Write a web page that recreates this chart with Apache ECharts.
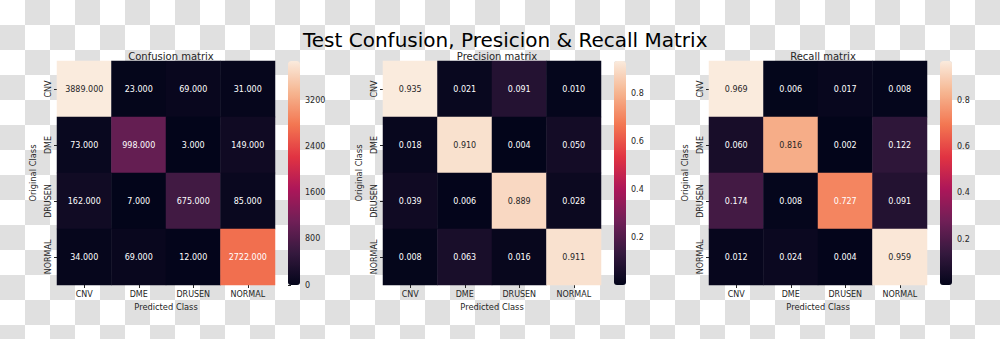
<!DOCTYPE html>
<html>
<head>
<meta charset="utf-8">
<script src="https://cdn.jsdelivr.net/npm/echarts@6/dist/echarts.min.js"></script>
<style>
  html, body { margin: 0; padding: 0; }
  body {
    width: 1000px; height: 339px;
    background: repeating-conic-gradient(#e0e0e0 0 25%, #ffffff 0 50%) 0 0 / 50px 50px;
  }
  #chart { width: 1000px; height: 339px; }
</style>
</head>
<body>
<div id="chart"></div>
<script>
// Class labels (rows = original class, columns = predicted class)
const classes = ['CNV', 'DME', 'DRUSEN', 'NORMAL'];

// Test-set counts
const confusion = [
  [3889, 23, 69, 31],
  [73, 998, 3, 149],
  [162, 7, 675, 85],
  [34, 69, 12, 2722]
];

// Column-normalised (precision)
const precision = [
  [0.935, 0.021, 0.091, 0.010],
  [0.018, 0.910, 0.004, 0.050],
  [0.039, 0.006, 0.889, 0.028],
  [0.008, 0.063, 0.016, 0.911]
];

// Row-normalised (recall)
const recall = [
  [0.969, 0.006, 0.017, 0.008],
  [0.060, 0.816, 0.002, 0.122],
  [0.174, 0.008, 0.727, 0.091],
  [0.012, 0.024, 0.004, 0.959]
];

// Colour-bar tick labels
const countTicks = [0, 800, 1600, 2400, 3200];
const ratioTicks = [0.2, 0.4, 0.6, 0.8];

const mainTitle = 'Test Confusion, Presicion & Recall Matrix';
const panelTitles = ['Confusion matrix', 'Precision matrix', 'Recall matrix'];

// "rocket" sequential palette
const rocket = ['#03051a', '#35193e', '#701f57', '#ad1759', '#e13342', '#f37651', '#f6b48f', '#faebdd'];

const FONT = 'DejaVu Sans';
const INK = '#262626';

function hexToRgb(h) {
  return [parseInt(h.slice(1, 3), 16), parseInt(h.slice(3, 5), 16), parseInt(h.slice(5, 7), 16)];
}
function paletteAt(t) {
  t = Math.max(0, Math.min(1, t));
  const pos = t * (rocket.length - 1);
  const i = Math.min(rocket.length - 2, Math.floor(pos));
  const f = pos - i;
  const a = hexToRgb(rocket[i]), b = hexToRgb(rocket[i + 1]);
  return a.map((c, k) => c + (b[k] - c) * f);
}
function luminance(rgb) {
  const lin = rgb.map(c => {
    c /= 255;
    return c <= 0.03928 ? c / 12.92 : Math.pow((c + 0.055) / 1.055, 2.4);
  });
  return 0.2126 * lin[0] + 0.7152 * lin[1] + 0.0722 * lin[2];
}

const panels = [
  { values: confusion, ticks: countTicks, gridLeft: 57, barLeft: 288 },
  { values: precision, ticks: ratioTicks, gridLeft: 383, barLeft: 614 },
  { values: recall, ticks: ratioTicks, gridLeft: 709, barLeft: 940 }
];
const GRID_TOP = 61, GRID_W = 218, GRID_H = 224, BAR_W = 12;

const grid = [], xAxis = [], yAxis = [], series = [], visualMap = [];
const title = [{
  text: mainTitle, left: 298, top: 25,
  textStyle: { fontFamily: FONT, fontSize: 20, fontWeight: 'normal', color: '#000' }
}];

panels.forEach((p, i) => {
  const flat = p.values.flat();
  const vmin = Math.min(...flat), vmax = Math.max(...flat);

  title.push({
    text: panelTitles[i], left: p.gridLeft + GRID_W / 2, top: 46, textAlign: 'center',
    textStyle: { fontFamily: FONT, fontSize: 10, fontWeight: 'normal', color: INK }
  });

  // heatmap panel
  grid.push({ left: p.gridLeft, top: GRID_TOP, width: GRID_W, height: GRID_H });
  xAxis.push({
    type: 'category', data: classes, gridIndex: i,
    name: 'Predicted Class', nameLocation: 'middle', nameGap: 16,
    nameTextStyle: { fontFamily: FONT, fontSize: 8.3, color: INK },
    axisLine: { show: false },
    axisTick: { show: true, alignWithLabel: true, length: 3, lineStyle: { color: INK } },
    axisLabel: { fontFamily: FONT, fontSize: 8, color: INK, margin: 5 },
    splitLine: { show: false }
  });
  yAxis.push({
    type: 'category', data: classes, gridIndex: i, inverse: true,
    name: 'Original Class', nameLocation: 'middle', nameGap: 20, nameRotate: 90,
    nameTextStyle: { fontFamily: FONT, fontSize: 8.3, color: INK },
    axisLine: { show: false },
    axisTick: { show: true, alignWithLabel: true, length: 3, lineStyle: { color: INK } },
    axisLabel: { fontFamily: FONT, fontSize: 8, color: INK, rotate: 90, margin: 5 },
    splitLine: { show: false }
  });

  const data = [];
  p.values.forEach((row, r) => row.forEach((v, c) => {
    const lum = luminance(paletteAt((v - vmin) / (vmax - vmin)));
    data.push({ value: [c, r, v], label: { color: lum > 0.408 ? INK : '#ffffff' } });
  }));
  series.push({
    type: 'heatmap', xAxisIndex: i, yAxisIndex: i, data: data,
    itemStyle: { borderWidth: 0 },
    label: {
      show: true, fontFamily: FONT, fontSize: 8,
      formatter: prm => prm.value[2].toFixed(3)
    },
    emphasis: { disabled: true }
  });

  visualMap.push({
    type: 'continuous', seriesIndex: i, min: vmin, max: vmax,
    inRange: { color: rocket },
    orient: 'vertical', left: p.barLeft, top: GRID_TOP,
    itemWidth: BAR_W, itemHeight: GRID_H, padding: 0,
    calculable: false, hoverLink: false, text: null, showLabel: false
  });
});

// colour-bar axes
panels.forEach((p, i) => {
  const flat = p.values.flat();
  const vmin = Math.min(...flat), vmax = Math.max(...flat);
  const gi = grid.length;
  grid.push({ left: p.barLeft, top: GRID_TOP, width: BAR_W, height: GRID_H });
  xAxis.push({ type: 'value', gridIndex: gi, show: false, min: 0, max: 1 });
  yAxis.push({
    type: 'value', gridIndex: gi, position: 'right',
    min: Math.min(vmin, p.ticks[0]), max: vmax,
    axisLine: { show: false },
    splitLine: { show: false },
    axisTick: { show: true, length: 3, lineStyle: { color: INK }, customValues: p.ticks },
    axisLabel: {
      fontFamily: FONT, fontSize: 8, color: INK, margin: 5, customValues: p.ticks,
      formatter: v => String(v)
    }
  });
});

const chart = echarts.init(document.getElementById('chart'), null, { renderer: 'svg' });
chart.setOption({
  backgroundColor: 'transparent',
  animation: false,
  title, grid, xAxis, yAxis, visualMap, series
});
</script>
</body>
</html>
